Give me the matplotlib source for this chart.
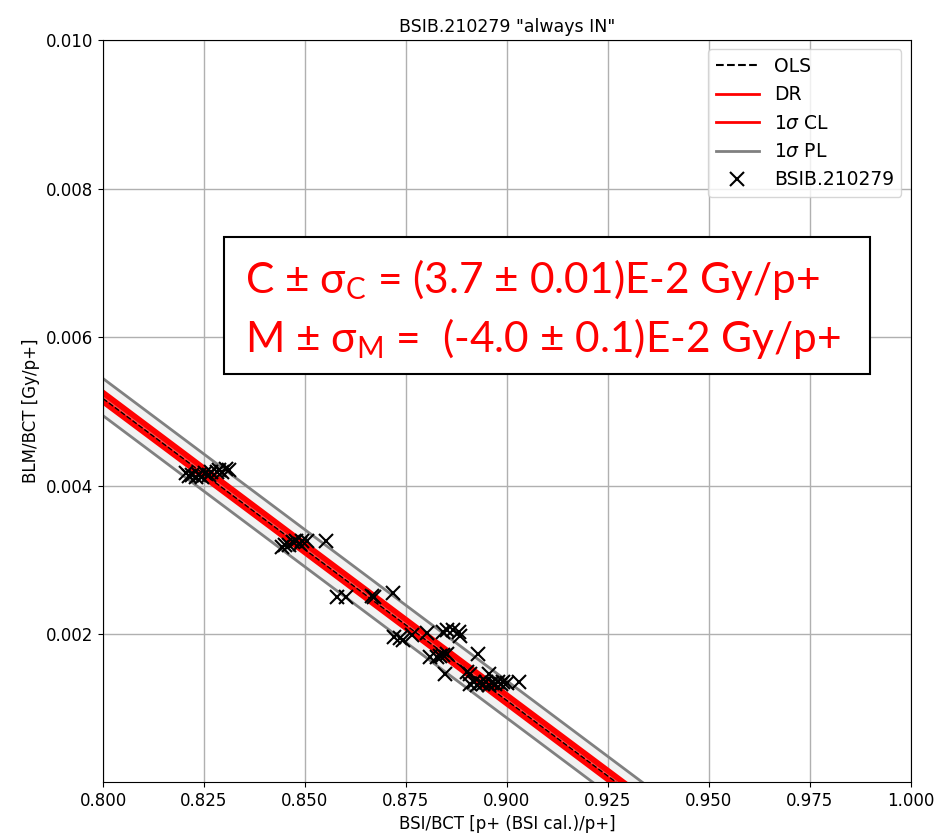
import numpy as np
import matplotlib
matplotlib.use("Agg")
import matplotlib.pyplot as plt
from matplotlib.patches import Rectangle

# measured points (BSI/BCT, BLM/BCT)
bsi = [0.8205, 0.8213, 0.8220, 0.8230, 0.8238, 0.8245, 0.8252, 0.8262, 0.8267,
       0.8282, 0.8287, 0.8295, 0.8304, 0.8312,
       0.8443, 0.8450, 0.8460, 0.8470, 0.8478, 0.8488, 0.8493, 0.8505, 0.8552,
       0.8579, 0.8601, 0.8666, 0.8671, 0.8718,
       0.8720, 0.8735, 0.8743, 0.8765, 0.8802, 0.8809, 0.8827, 0.8834, 0.8842,
       0.8851, 0.8842, 0.8851, 0.8866, 0.8881, 0.8884, 0.8847, 0.8928, 0.8901,
       0.8908, 0.8955,
       0.8908, 0.8918, 0.8925, 0.8933, 0.8940, 0.8948, 0.8955, 0.8963, 0.8970,
       0.8978, 0.8985, 0.8990, 0.9000, 0.9030]
blm = [0.00417, 0.00413, 0.00415, 0.00411, 0.00414, 0.00411, 0.00417, 0.00414, 0.00418,
       0.00418, 0.00421, 0.00419, 0.00422, 0.00421,
       0.00317, 0.00320, 0.00320, 0.00324, 0.00325, 0.00322, 0.00325, 0.00325, 0.00325,
       0.00250, 0.00250, 0.00252, 0.00250, 0.00255,
       0.00196, 0.00195, 0.00192, 0.00199, 0.00201, 0.00169, 0.00169, 0.00170, 0.00172,
       0.00174, 0.00203, 0.00205, 0.00205, 0.00203, 0.00197, 0.00146, 0.00173, 0.00149,
       0.00147, 0.00147,
       0.00133, 0.00135, 0.00131, 0.00134, 0.00133, 0.00135, 0.00131, 0.00134, 0.00133,
       0.00135, 0.00133, 0.00135, 0.00134, 0.00135]

# fit parameters
C_dr, M_dr = 0.03776, -0.04071
C_ols, M_ols = 0.03770, -0.04066
cl_a, cl_b, x_mean = 0.00008, 0.0004, 0.87  # 1 sigma confidence band
pl_hw = 0.00025  # 1 sigma prediction band

x = np.linspace(0.8, 1.0, 400)
y_dr = C_dr + M_dr * x
y_ols = C_ols + M_ols * x
cl = np.sqrt(cl_a**2 + (cl_b * (x - x_mean))**2)

fig = plt.figure(figsize=(9.37, 8.35), dpi=100)
ax = fig.add_axes([0.110, 0.0635, 0.862, 0.8885])

ax.fill_between(x, y_dr - pl_hw, y_dr + pl_hw, color="gray", alpha=0.1, lw=0)
ax.plot(x, y_dr + pl_hw, color="gray", lw=2)
ax.plot(x, y_dr - pl_hw, color="gray", lw=2)
ax.fill_between(x, y_dr - cl, y_dr + cl, color="red", lw=0)
ax.plot(x, y_dr + cl, color="red", lw=2)
ax.plot(x, y_dr - cl, color="red", lw=2)
ax.plot(x, y_dr, color="#ff5050", lw=1)
ax.plot(x, y_ols, "k--", lw=1)

# legend proxies
ax.plot([], [], "k--", label="OLS")
ax.plot([], [], color="red", lw=2, label="DR")
ax.plot([], [], color="red", lw=2, label=r"1$\sigma$ CL")
ax.plot([], [], color="gray", lw=2, label=r"1$\sigma$ PL")
ax.plot(bsi, blm, "x", color="black", ms=10, mew=1.5, label="BSIB.210279")

ax.set_xlim(0.8, 1.0)
ax.set_ylim(0.00001, 0.010)
ax.set_xticks(np.arange(0.8, 1.0001, 0.025))
ax.set_yticks([0.002, 0.004, 0.006, 0.008, 0.010])
ax.grid(True, color="#b0b0b0", lw=1)
ax.set_axisbelow(True)
ax.tick_params(labelsize=12)
ax.set_title('BSIB.210279 "always IN"', fontsize=12.5)
ax.set_xlabel("BSI/BCT [p+ (BSI cal.)/p+]", fontsize=12)
ax.set_ylabel("BLM/BCT [Gy/p+]", fontsize=12)
ax.legend(loc="upper right", fontsize=13.5, handlelength=2.3)

# result box
ax.add_patch(Rectangle((0.150, 0.550), 0.799, 0.184, transform=ax.transAxes,
                       facecolor="white", edgecolor="black", lw=1.5, zorder=5))
plt.rcParams["mathtext.fontset"] = "custom"
plt.rcParams["mathtext.rm"] = "Lato"
ax.text(0.176, 0.677, "C ± σ$_\\mathregular{C}$ = (3.7 ± 0.01)E-2 Gy/p+",
        transform=ax.transAxes, color="red", fontsize=30.5, family="Lato",
        va="center", ha="left", zorder=6)
ax.text(0.176, 0.598, "M ± σ$_\\mathregular{M}$ =  (-4.0 ± 0.1)E-2 Gy/p+",
        transform=ax.transAxes, color="red", fontsize=30.5, family="Lato",
        va="center", ha="left", zorder=6)

fig.savefig("out.png", dpi=100)
